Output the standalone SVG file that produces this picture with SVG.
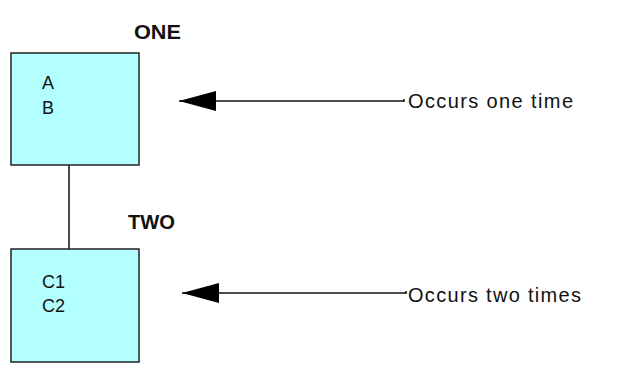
<svg xmlns="http://www.w3.org/2000/svg" width="630" height="379" viewBox="0 0 630 379">
<style>
.box{fill:#b3ffff;stroke:#222;stroke-width:1.5}
.t{font-family:"Liberation Sans",Arial,sans-serif;fill:#111}
.in{font-size:18px}
.hd{font-size:20px;font-weight:bold}
.lb{font-size:20px}
.ln{stroke:#111;stroke-width:1.5;fill:none}
</style>
<defs>
<marker id="ah" markerWidth="38" markerHeight="22" refX="1" refY="11" orient="auto" markerUnits="userSpaceOnUse">
<path d="M1,11 L38,1 L38,21 Z" fill="#000"/>
</marker>
</defs>
<rect width="630" height="379" fill="#fff"/>
<g id="connectors">
<line class="ln" x1="69" y1="165" x2="69" y2="249"/>
<line class="ln" x1="179" y1="101" x2="404" y2="101" marker-start="url(#ah)"/>
<line class="ln" x1="404" y1="99" x2="404" y2="102"/>
<line class="ln" x1="182" y1="293" x2="406" y2="293" marker-start="url(#ah)"/>
<line class="ln" x1="406" y1="291" x2="406" y2="294"/>
</g>
<g id="one">
<rect class="box" x="11" y="53" width="128" height="112"/>
<text class="t hd" x="134" y="39" textLength="47" lengthAdjust="spacingAndGlyphs">ONE</text>
<text class="t in" x="42" y="89">A</text>
<text class="t in" x="42" y="114">B</text>
</g>
<g id="two">
<rect class="box" x="11" y="249" width="128" height="113"/>
<text class="t hd" x="128" y="229" textLength="47" lengthAdjust="spacingAndGlyphs">TWO</text>
<text class="t in" x="42" y="288">C1</text>
<text class="t in" x="42" y="312">C2</text>
</g>
<g id="label-one">
<text class="t lb" x="408" y="108" textLength="165" lengthAdjust="spacing">Occurs one time</text>
</g>
<g id="label-two">
<text class="t lb" x="408" y="302" textLength="173" lengthAdjust="spacing">Occurs two times</text>
</g>
</svg>
